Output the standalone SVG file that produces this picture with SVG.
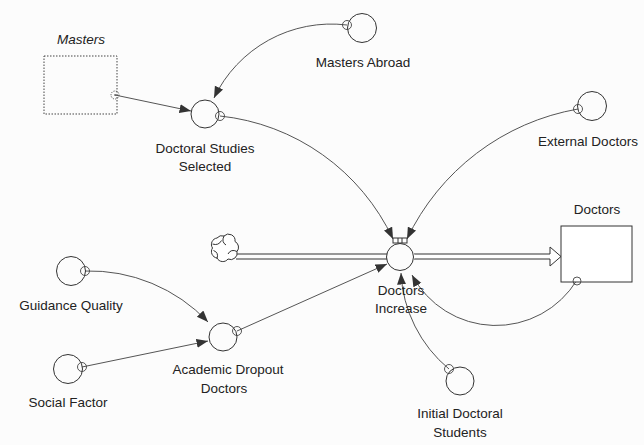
<svg xmlns="http://www.w3.org/2000/svg" width="644" height="445" viewBox="0 0 644 445">
  <style>
    text { font-family: "Liberation Sans", Arial, sans-serif; font-size: 13.5px; fill: #222; text-anchor: middle; }
    .aux { fill: none; stroke: #333; stroke-width: 1; }
    .tap { fill: none; stroke: #444; stroke-width: 0.9; }
    .link { fill: none; stroke: #555; stroke-width: 1; marker-end: url(#arrow); }
    .pipe { fill: #fff; stroke: #333; stroke-width: 1; }
    .stock { fill: #fff; stroke: #333; stroke-width: 1; }
  </style>
  <defs>
    <marker id="arrow" markerUnits="userSpaceOnUse" markerWidth="13" markerHeight="10" refX="11.5" refY="4.5" orient="auto">
      <path d="M0,0 L11.5,4.5 L0,9 z" fill="#333"/>
    </marker>
  </defs>

  <rect width="644" height="445" fill="#fcfcfc"/>

  <!-- connectors -->
  <g id="connectors">
    <line class="link" x1="115" y1="95" x2="191" y2="111"/>
    <path class="link" d="M347,25 A130,130 0 0 0 214,98"/>
    <path class="link" d="M220,116 A216,216 0 0 1 393,239"/>
    <path class="link" d="M578,109 A234,234 0 0 0 407,239"/>
    <path class="link" d="M577,280 A95,95 0 0 1 412,275"/>
    <path class="link" d="M449,369 A133,133 0 0 1 401,273"/>
    <path class="link" d="M85,271 A163,163 0 0 1 208,322"/>
    <line class="link" x1="82" y1="367" x2="208" y2="341"/>
    <line class="link" x1="237" y1="331" x2="387" y2="264"/>
  </g>

  <!-- flow pipe from the source cloud into the Doctors stock -->
  <g id="flow">
    <line x1="236" y1="254" x2="387" y2="254" stroke="#333"/>
    <line x1="236" y1="259" x2="387" y2="259" stroke="#333"/>
    <path class="pipe" d="M414,254 L550,254 L550,247 L561,256.5 L550,266 L550,259 L414,259"/>
    <line x1="414" y1="254.5" x2="414" y2="258.5" stroke="#fff" stroke-width="1.2"/>
  </g>

  <g id="source-cloud" fill="#fff" stroke="#333" stroke-width="1">
    <path d="M224,236 a6.5,6.5 0 0 1 11,5.5 a6.5,6.5 0 0 1 2,10 a6.5,6.5 0 0 1 -9,7.5 a6.5,6.5 0 0 1 -11,-1 a6.5,6.5 0 0 1 -4.5,-10 a6.5,6.5 0 0 1 4.5,-10 a6.5,6.5 0 0 1 7,-2 z"/>
    <path d="M224,236 q-3,6 2,9 M237,251.5 q-6,-3 -9,2.5 M217,258.5 q2,-6 -3.5,-8 M212.5,244 q6,2 9,-3.5" fill="none"/>
  </g>

  <g id="doctors-increase">
    <circle class="aux" cx="400" cy="257" r="13.5" fill="#fff"/>
    <rect x="393" y="238" width="14" height="5" fill="#fff" stroke="#333"/>
    <line x1="398" y1="238" x2="398" y2="243" stroke="#333"/>
    <line x1="402" y1="238" x2="402" y2="243" stroke="#333"/>
    <text x="401" y="295">Doctors</text>
    <text x="401" y="313">Increase</text>
  </g>

  <g id="masters">
    <rect x="44" y="56" width="73" height="58" fill="none" stroke="#444" stroke-dasharray="1.5,1.5"/>
    <circle class="tap" cx="115" cy="95" r="4" stroke-dasharray="1.2,1.2" fill="#fcfcfc"/>
    <circle cx="115" cy="95" r="0.8" fill="#333"/>
    <text x="81" y="44" font-style="italic">Masters</text>
  </g>

  <g id="doctors">
    <rect class="stock" x="561" y="226" width="71" height="56"/>
    <circle class="tap" cx="577" cy="281" r="4" fill="#fcfcfc"/>
    <text x="597" y="214">Doctors</text>
  </g>

  <g id="doctoral-studies-selected">
    <circle class="aux" cx="205" cy="114" r="14"/>
    <circle class="tap" cx="220" cy="116" r="4.5"/>
    <text x="205" y="153">Doctoral Studies</text>
    <text x="205" y="171">Selected</text>
  </g>

  <g id="masters-abroad">
    <circle class="aux" cx="362" cy="28" r="14.5"/>
    <circle class="tap" cx="347" cy="25" r="4.5"/>
    <text x="363" y="67">Masters Abroad</text>
  </g>

  <g id="external-doctors">
    <circle class="aux" cx="592" cy="106" r="14.5"/>
    <circle class="tap" cx="578" cy="109" r="4.5"/>
    <text x="588" y="146">External Doctors</text>
  </g>

  <g id="guidance-quality">
    <circle class="aux" cx="71" cy="271" r="14.5"/>
    <circle class="tap" cx="85" cy="271" r="4.5"/>
    <text x="71" y="310">Guidance Quality</text>
  </g>

  <g id="social-factor">
    <circle class="aux" cx="68" cy="369" r="14.5"/>
    <circle class="tap" cx="82" cy="367" r="4.5"/>
    <text x="68" y="407">Social Factor</text>
  </g>

  <g id="academic-dropout-doctors">
    <circle class="aux" cx="223" cy="337" r="14"/>
    <circle class="tap" cx="237" cy="331" r="4.5"/>
    <text x="228" y="374">Academic Dropout</text>
    <text x="224" y="393">Doctors</text>
  </g>

  <g id="initial-doctoral-students">
    <circle class="aux" cx="460" cy="381" r="14"/>
    <circle class="tap" cx="449" cy="369" r="4.5"/>
    <text x="460" y="418">Initial Doctoral</text>
    <text x="460" y="437">Students</text>
  </g>
</svg>
